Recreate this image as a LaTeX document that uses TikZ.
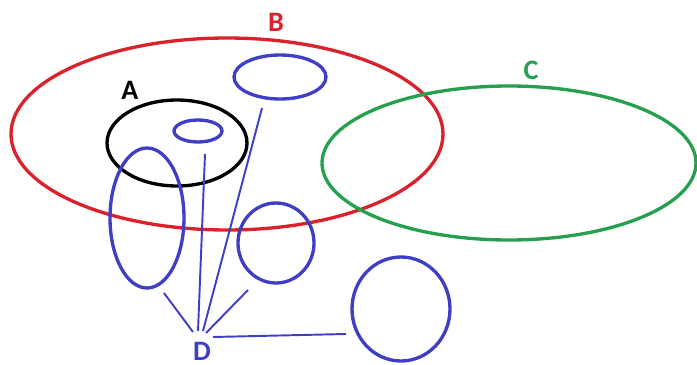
\documentclass[tikz,border=0pt]{standalone}
\usepackage{fontspec}
\setsansfont{Carlito}
\usetikzlibrary{positioning}
\definecolor{setRed}{RGB}{218,34,44}
\definecolor{setGreen}{RGB}{38,160,78}
\definecolor{setBlue}{RGB}{62,62,198}
\tikzset{setLine/.style={line width=1.9pt},
  letter/.style={font=\sffamily\bfseries\fontsize{16}{16}\selectfont, inner sep=0pt},
  link/.style={setBlue, line width=1.1pt}}

\begin{document}
\begin{tikzpicture}[x=0.02cm,y=-0.02cm]
    \useasboundingbox (0,0) rectangle (697,365);

    % the sets
    \draw [setRed,setLine] (227,134) ellipse [x radius=216, y radius=96];
    \draw [setGreen,setLine] (509,163) ellipse [x radius=187, y radius=77];
    \draw [black,setLine] (177,143) ellipse [x radius=70, y radius=43];
    \draw [setBlue,setLine] (198,131) ellipse [x radius=24, y radius=11];
    \draw [setBlue,setLine] (280,77) ellipse [x radius=46, y radius=22];
    \draw [setBlue,setLine] (147,218) ellipse [x radius=37, y radius=70];
    \draw [setBlue,setLine] (276,243) ellipse [x radius=38, y radius=40];
    \draw [setBlue,setLine] (401,309) ellipse [x radius=49, y radius=52];

    \node (labB) [letter,setRed] at (276,22) {B};
    \node (labA) [letter,black] at (130,90) {A};
    \node (labC) [letter,setGreen] at (531,70) {C};
    \node (labD) [letter,setBlue] at (202,351) {D};

    % ends of the lines
    \coordinate (d1) at (193,332);
    \coordinate (d2) at (198,331);
    \coordinate (d3) at (203,331);
    \coordinate (d4) at (206,333);
    \coordinate (d5) at (213,337);
    \coordinate (s1) at (164,293);
    \coordinate (s2) at (205,154);
    \coordinate (s3) at (262,108);
    \coordinate (s4) at (248,290);
    \coordinate (s5) at (346,334);

    \foreach \i in {1,...,5}
      \draw [link] (d\i) -- (s\i);
\end{tikzpicture}
\end{document}
